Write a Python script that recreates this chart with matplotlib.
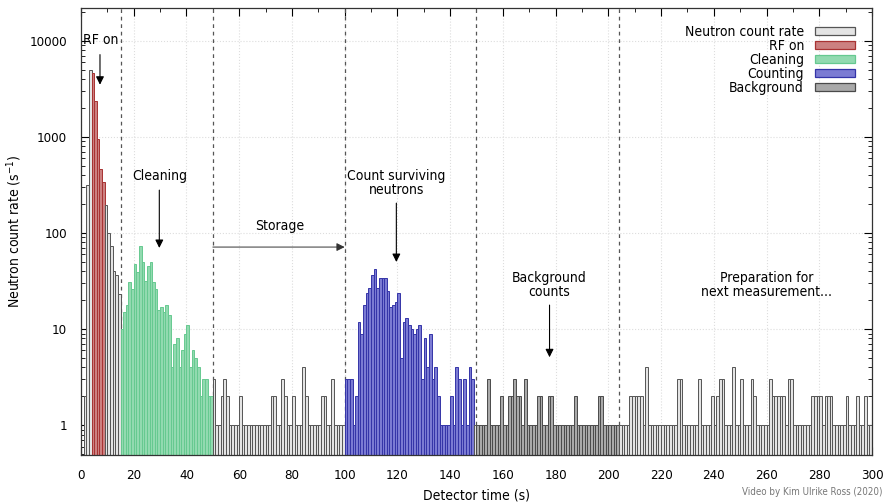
import matplotlib
matplotlib.use('Agg')
import matplotlib.pyplot as plt
from matplotlib.patches import Patch
from matplotlib.ticker import MultipleLocator, FixedLocator, FuncFormatter, LogLocator, NullFormatter

plt.rcParams['font.family'] = ['DejaVu Sans']
plt.rcParams['font.stretch'] = 'condensed'

# ---- data: neutron counts per 1-second bin ----
counts_0_14 = [0, 2, 316, 5000, 4650, 2390, 955, 465, 340, 195, 100, 73, 40, 37, 23]
counts_15_49 = [10, 15, 18, 31, 26, 48, 39, 73, 50, 32,
                45, 50, 31, 26, 16, 17, 15, 18, 14, 4,
                7, 8, 4, 6, 9, 11, 4, 6, 5, 4,
                2, 3, 3, 2, 2]
counts_50_99 = [3, 1, 1, 2, 3, 2, 1, 1, 1, 1,
                2, 1, 1, 1, 1, 1, 1, 1, 1, 1,
                1, 1, 2, 2, 1, 1, 3, 2, 1, 1,
                2, 1, 1, 1, 4, 2, 1, 1, 1, 1,
                1, 2, 2, 1, 1, 3, 1, 1, 1, 1]
counts_100_149 = [3, 3, 3, 1, 2, 12, 9, 18, 24, 27,
                  37, 42, 27, 34, 34, 34, 25, 17, 18, 19,
                  24, 5, 12, 13, 11, 10, 9, 10, 11, 3,
                  8, 4, 9, 3, 4, 2, 1, 1, 1, 1,
                  2, 1, 4, 3, 1, 3, 1, 4, 3, 1]
counts_150_203 = [1, 1, 1, 1, 3, 1, 1, 1, 1, 2,
                  1, 1, 2, 2, 3, 2, 2, 1, 3, 1,
                  1, 1, 1, 2, 2, 1, 1, 2, 2, 1,
                  1, 1, 1, 1, 1, 1, 1, 2, 1, 1,
                  1, 1, 1, 1, 1, 1, 2, 2, 1, 1,
                  1, 1, 1, 1]
counts_204_299 = [1, 1, 1, 1, 2, 2, 2, 2, 2, 1,
                  4, 1, 1, 1, 1, 1, 1, 1, 1, 1,
                  1, 1, 3, 3, 1, 1, 1, 1, 1, 1,
                  3, 1, 1, 1, 1, 2, 1, 2, 3, 3,
                  1, 1, 1, 4, 1, 1, 3, 1, 1, 1,
                  3, 2, 1, 1, 1, 1, 1, 3, 2, 2,
                  2, 2, 2, 1, 3, 3, 1, 1, 1, 1,
                  1, 1, 1, 2, 2, 2, 2, 1, 2, 2,
                  2, 1, 1, 1, 1, 1, 2, 1, 1, 1,
                  2, 1, 1, 2, 1, 1]

counts = (counts_0_14 + counts_15_49 + counts_50_99 +
          counts_100_149 + counts_150_203 + counts_204_299)

rf_on = (4, 9)
cleaning = (15, 50)
counting = (100, 149)
background = (150, 204)
phase_lines = [15, 50, 100, 150, 204]

labels = ['Neutron count rate', 'RF on', 'Cleaning', 'Counting', 'Background']
faces = ['#e4e4e4', '#cc8080', '#92dab0', '#7b7bd3', '#a9a9a9']
edges = ['#555555', '#a83232', '#66c990', '#3434a8', '#4a4a4a']


def phase_of(t):
    if rf_on[0] <= t < rf_on[1]:
        return 1
    if cleaning[0] <= t < cleaning[1]:
        return 2
    if counting[0] <= t < counting[1]:
        return 3
    if background[0] <= t < background[1]:
        return 4
    return 0


fig = plt.figure(figsize=(8.87, 5.04), dpi=100)
ax = fig.add_axes([81 / 887, 49 / 504, 791 / 887, 447 / 504])

xs, hs, fcs, ecs = [], [], [], []
for t, c in enumerate(counts):
    if c <= 0:
        continue
    p = phase_of(t)
    xs.append(t)
    hs.append(c)
    fcs.append(faces[p])
    ecs.append(edges[p])

ax.bar(xs, hs, width=1, align='edge', bottom=0.01, color=fcs, edgecolor=ecs,
       linewidth=0.7, zorder=2)

ax.set_yscale('log')
ax.set_xlim(0, 300)
ax.set_ylim(0.49, 2.2e4)

for xl in phase_lines:
    ax.axvline(xl, color='#555555', lw=0.9, ls=(0, (3, 3)), zorder=1)

ax.grid(True, which='major', color='#dddddd', ls=':', lw=0.8, zorder=0)
ax.set_axisbelow(True)

ax.xaxis.set_major_locator(MultipleLocator(20))
ax.xaxis.set_minor_locator(MultipleLocator(10))
ax.yaxis.set_major_locator(FixedLocator([1, 10, 100, 1000, 10000]))
ax.yaxis.set_major_formatter(FuncFormatter(lambda v, p: '%d' % round(v)))
ax.yaxis.set_minor_locator(LogLocator(base=10, subs=[2, 3, 4, 5, 6, 7, 8, 9]))
ax.yaxis.set_minor_formatter(NullFormatter())
ax.tick_params(which='both', direction='in', top=True, right=True, labelsize=9.5)
ax.tick_params(which='major', length=6, width=0.8)
ax.tick_params(which='minor', length=3, width=0.6)
ax.tick_params(axis='y', which='major', pad=10)
ax.tick_params(axis='x', which='major', pad=10)
for s in ax.spines.values():
    s.set_color('#333333')
    s.set_linewidth(0.9)

ax.set_xlabel('Detector time (s)', fontsize=10, labelpad=5)
ax.set_ylabel('Neutron count rate (s$^{-1}$)', fontsize=10, labelpad=4)

arrow = dict(arrowstyle='-|>', color='black', lw=0.8, mutation_scale=12,
             shrinkA=0, shrinkB=0)
fs = 10
ax.text(7.5, 10200, 'RF on', ha='center', va='center', fontsize=fs)
ax.annotate('', xy=(7.2, 3500), xytext=(7.2, 7200), arrowprops=arrow)

ax.text(29.7, 390, 'Cleaning', ha='center', va='center', fontsize=fs)
ax.annotate('', xy=(29.7, 70), xytext=(29.7, 280), arrowprops=arrow)

ax.text(75.2, 118, 'Storage', ha='center', va='center', fontsize=fs)
ax.annotate('', xy=(100, 71.5), xytext=(50, 71.5),
            arrowprops=dict(arrowstyle='-|>', color='#333333', lw=0.7,
                            mutation_scale=12, shrinkA=0, shrinkB=0))

ax.text(119.6, 335, 'Count surviving\nneutrons', ha='center', va='center',
        fontsize=fs, linespacing=1.0)
ax.annotate('', xy=(119.6, 50), xytext=(119.6, 205), arrowprops=arrow)

ax.text(177.7, 29, 'Background\ncounts', ha='center', va='center',
        fontsize=fs, linespacing=1.0)
ax.annotate('', xy=(177.7, 5.1), xytext=(177.7, 17.8), arrowprops=arrow)

ax.text(260, 29, 'Preparation for\nnext measurement...', ha='center',
        va='center', fontsize=fs, linespacing=1.0)

handles = [Patch(facecolor=f, edgecolor=e, linewidth=0.9) for f, e in zip(faces, edges)]
ax.legend(handles, labels, loc='upper right', frameon=False, markerfirst=False,
          fontsize=fs, handlelength=2.9, handleheight=0.55, labelspacing=0.0,
          borderaxespad=0.9, borderpad=0.3, handletextpad=0.8)

fig.text(0.995, 0.023, 'Video by Kim Ulrike Ross (2020)', ha='right', va='center',
         fontsize=7, color='#777777')

fig.savefig('out.png', dpi=100)
